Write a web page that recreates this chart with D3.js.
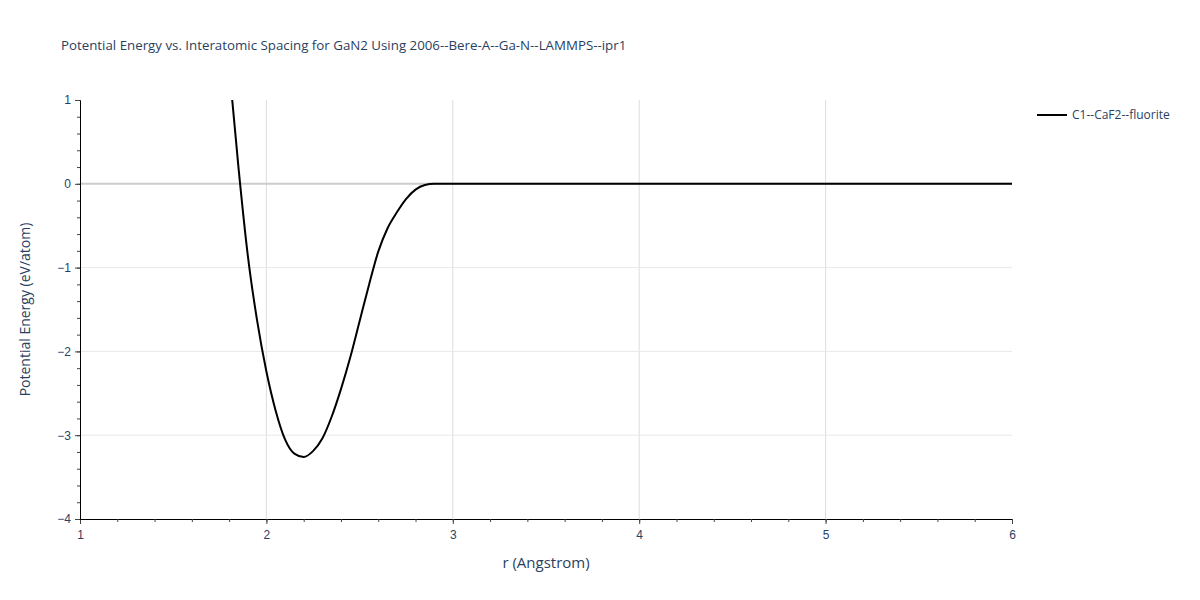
<!DOCTYPE html>
<html>
<head>
<meta charset="utf-8">
<script src="https://cdn.jsdelivr.net/npm/d3@7"></script>
<style>
  body { margin: 0; background: #fff; }
  svg { font-family: "Open Sans", verdana, arial, sans-serif; }
</style>
</head>
<body>
<svg id="chart" width="1200" height="600"></svg>
<script>
const titleText = "Potential Energy vs. Interatomic Spacing for GaN2 Using 2006--Bere-A--Ga-N--LAMMPS--ipr1";
const xLabel = "r (Angstrom)";
const yLabel = "Potential Energy (eV/atom)";
const seriesName = "C1--CaF2--fluorite";

const rValues = [1.80, 1.85, 1.90, 1.95, 2.00, 2.05, 2.10, 2.15, 2.20, 2.25, 2.30, 2.35, 2.40, 2.45, 2.50, 2.55, 2.60, 2.65, 2.70, 2.75, 2.80, 2.85, 2.90, 3.00, 3.50, 4.00, 4.50, 5.00, 5.50, 6.00];
const energyValues = [1.40, 0.20, -0.85, -1.63, -2.24, -2.71, -3.05, -3.22, -3.26, -3.19, -3.04, -2.78, -2.45, -2.07, -1.64, -1.21, -0.81, -0.53, -0.34, -0.18, -0.07, -0.015, 0.00, 0.00, 0.00, 0.00, 0.00, 0.00, 0.00, 0.00];

const xTicks = [1, 2, 3, 4, 5, 6];
const yTicks = [1, 0, -1, -2, -3, -4];

const svg = d3.select("#chart");
const margin = { left: 80, right: 188, top: 100, bottom: 81 };
const W = 1200, H = 600;
const x = d3.scaleLinear().domain([1, 6]).range([margin.left, W - margin.right]);
const y = d3.scaleLinear().domain([-4, 1]).range([H - margin.bottom, margin.top]);
const textColor = "#2a3f5f";
const fmt = d => d < 0 ? "\u2212" + Math.abs(d) : String(d);

// clip
svg.append("defs").append("clipPath").attr("id", "clip")
  .append("rect").attr("x", x(1)).attr("y", y(1)).attr("width", x(6) - x(1)).attr("height", y(-4) - y(1));

// grid
svg.append("g").selectAll("line").data(xTicks.filter(d => d > 1 && d < 6)).join("line")
  .attr("x1", d => x(d)).attr("x2", d => x(d)).attr("y1", y(1)).attr("y2", y(-4))
  .attr("stroke", "#dddddd").attr("stroke-width", 1);
svg.append("g").selectAll("line").data(yTicks.filter(d => d > -4 && d < 1 && d !== 0)).join("line")
  .attr("x1", x(1)).attr("x2", x(6)).attr("y1", d => y(d)).attr("y2", d => y(d))
  .attr("stroke", "#e8e8e8").attr("stroke-width", 1);
svg.append("line").attr("x1", x(1)).attr("x2", x(6)).attr("y1", y(0)).attr("y2", y(0))
  .attr("stroke", "#cccccc").attr("stroke-width", 2);

// axes
const xAxis = d3.axisBottom(x).tickValues(xTicks).tickFormat(fmt).tickSize(5).tickPadding(4);
const gx = svg.append("g").attr("transform", `translate(0,${y(-4)})`).call(xAxis);
const xMinor = d3.range(1, 6.001, 0.2);
const gxm = svg.append("g").attr("transform", `translate(0,${y(-4)})`)
  .call(d3.axisBottom(x).tickValues(xMinor).tickFormat("").tickSize(3));
gxm.select(".domain").remove();

const yAxis = d3.axisLeft(y).tickValues(yTicks).tickFormat(fmt).tickSize(5).tickPadding(4);
const gy = svg.append("g").attr("transform", `translate(${x(1)},0)`).call(yAxis);
const yMinor = d3.range(-4, 1.001, 0.2);
const gym = svg.append("g").attr("transform", `translate(${x(1)},0)`)
  .call(d3.axisLeft(y).tickValues(yMinor).tickFormat("").tickSize(3));
gym.select(".domain").remove();

[gx, gy, gxm, gym].forEach(g => {
  g.selectAll(".domain").attr("stroke", "#000").attr("stroke-width", 1);
  g.selectAll(".tick line").attr("stroke", "#444");
  g.selectAll("text").attr("fill", textColor).style("font-size", "12px");
});
gx.selectAll("text").attr("dy", "0.9em");

// line
const line = d3.line().x((d, i) => x(rValues[i])).y(d => y(d)).curve(d3.curveMonotoneX);
svg.append("path").datum(energyValues).attr("clip-path", "url(#clip)")
  .attr("d", line).attr("fill", "none").attr("stroke", "#000").attr("stroke-width", 2)
  .attr("stroke-linejoin", "round");

// title & labels
svg.append("text").attr("x", 61).attr("y", 50).text(titleText)
  .attr("fill", textColor).style("font-size", "13.3px");
svg.append("text").attr("x", (x(1) + x(6)) / 2).attr("y", 568).attr("text-anchor", "middle")
  .text(xLabel).attr("fill", textColor).style("font-size", "15px");
svg.append("text").attr("transform", `translate(30,${(y(1) + y(-4)) / 2}) rotate(-90)`)
  .attr("text-anchor", "middle").text(yLabel).attr("fill", textColor).style("font-size", "14px");

// legend
const lg = svg.append("g").attr("transform", "translate(1037,115)");
lg.append("line").attr("x1", 0).attr("x2", 30).attr("y1", 0).attr("y2", 0)
  .attr("stroke", "#000").attr("stroke-width", 2);
lg.append("text").attr("x", 35).attr("y", 4).text(seriesName)
  .attr("fill", textColor).style("font-size", "12px");
</script>
</body>
</html>
